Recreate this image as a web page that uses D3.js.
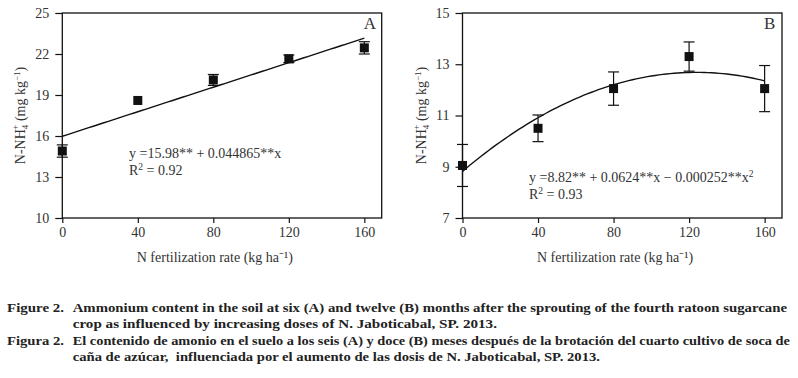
<!DOCTYPE html>
<html>
<head>
<meta charset="utf-8">
<script src="https://cdn.jsdelivr.net/npm/d3@7"></script>
<style>
  body { margin: 0; background: #fff; }
  svg text { font-family: "Liberation Serif", "Times New Roman", serif; }
</style>
</head>
<body>
<div id="chart"></div>
<script>
// doses de N (kg/ha) y promedios de N-NH4+
const doses = [0, 40, 80, 120, 160];
const nh4Six = [14.9, 18.6, 20.1, 21.65, 22.45];
const errSix = [0.45, 0, 0.4, 0.28, 0.45];
const nh4Twelve = [9.05, 10.5, 12.05, 13.3, 12.05];
const errTwelve = [0.82, 0.52, 0.65, 0.57, 0.9];
const xTicks = [0, 40, 80, 120, 160];
const yTicksA = [10, 13, 16, 19, 22, 25];
const yTicksB = [7, 9, 11, 13, 15];
// coeficientes de la regresion mostrados en la figura
const coefA = [15.98, 0.044865];
const coefB = [8.82, 0.0624, -0.000252];
const eqA = 'y =15.98** + 0.044865**x';
const eqB = 'y =8.82** + 0.0624**x \u2212 0.000252**x';
const r2A = '0.92';
const r2B = '0.93';

const svgWidth = 798, svgHeight = 378;
const svg = d3.select('#chart').append('svg')
  .attr('width', svgWidth)
  .attr('height', svgHeight);

const plotTop = 13, plotBottom = 218;

function panel(opt) {
  const g = svg.append('g');
  const x = d3.scaleLinear().domain([0, 169.2]).range([opt.left, opt.right]);
  const y = d3.scaleLinear().domain(opt.yDomain).range([plotBottom, plotTop]);

  // marco
  g.append('rect')
    .attr('x', opt.left).attr('y', plotTop)
    .attr('width', opt.right - opt.left).attr('height', plotBottom - plotTop)
    .attr('fill', 'none').attr('stroke', '#111').attr('stroke-width', 1.3);

  const yAxis = g.append('g')
    .attr('transform', `translate(${opt.left},0)`)
    .call(d3.axisLeft(y).tickValues(opt.yTicks).tickSize(7).tickPadding(6).tickSizeOuter(0));
  const xAxis = g.append('g')
    .attr('transform', `translate(0,${plotBottom})`)
    .call(d3.axisBottom(x).tickValues(xTicks).tickSize(5).tickPadding(4).tickSizeOuter(0));
  [yAxis, xAxis].forEach(a => {
    a.select('.domain').remove();
    a.selectAll('line').attr('stroke', '#111').attr('stroke-width', 1.2);
    a.selectAll('text').attr('fill', '#333')
      .style('font-size', '14px')
      .style('font-family', '"Liberation Serif", serif');
  });

  // curva ajustada
  const line = d3.line().x(d => x(d)).y(d => y(opt.fit(d)));
  g.append('path')
    .datum(d3.range(0, 160.01, 2))
    .attr('d', line)
    .attr('fill', 'none').attr('stroke', '#111').attr('stroke-width', 1.4);

  // barras de error
  const pts = doses.map((d, i) => ({ dose: d, v: opt.values[i], e: opt.errors[i] }))
  const eb = g.selectAll('.eb').data(pts.filter(p => p.e > 0)).enter().append('g')
    .attr('stroke', '#111').attr('stroke-width', 1.2);
  eb.append('line')
    .attr('x1', d => x(d.dose)).attr('x2', d => x(d.dose))
    .attr('y1', d => y(d.v + d.e)).attr('y2', d => y(d.v - d.e));
  eb.append('line')
    .attr('x1', d => x(d.dose) - 5.5).attr('x2', d => x(d.dose) + 5.5)
    .attr('y1', d => y(d.v + d.e)).attr('y2', d => y(d.v + d.e));
  eb.append('line')
    .attr('x1', d => x(d.dose) - 5.5).attr('x2', d => x(d.dose) + 5.5)
    .attr('y1', d => y(d.v - d.e)).attr('y2', d => y(d.v - d.e));

  g.selectAll('.pt').data(pts).enter().append('rect')
    .attr('x', d => x(d.dose) - 4.5).attr('y', d => y(d.v) - 4.5)
    .attr('width', 9).attr('height', 9)
    .attr('fill', '#111');

  // letra del panel
  g.append('text')
    .attr('x', opt.right - 18).attr('y', 29)
    .attr('text-anchor', 'start')
    .style('font-size', '17px').attr('fill', '#333')
    .text(opt.letter);

  // ecuacion
  const eq = g.append('text')
    .attr('x', opt.eqX).attr('y', opt.eqY)
    .style('font-size', '14px').attr('fill', '#333');
  eq.append('tspan').text(opt.eq);
  if (opt.squared) eq.append('tspan').attr('dy', -5).style('font-size', '9.5px').text('2');
  const r2 = g.append('text')
    .attr('x', opt.eqX).attr('y', opt.eqY + 17)
    .style('font-size', '14px').attr('fill', '#333');
  r2.append('tspan').text('R');
  r2.append('tspan').attr('dy', -5).style('font-size', '9.5px').text('2');
  r2.append('tspan').attr('dy', 5).text(' = ' + opt.r2);

  // etiqueta eje X
  g.append('text')
    .attr('x', x(80) + 1.5).attr('y', 262)
    .attr('text-anchor', 'middle')
    .style('font-size', '14px').attr('fill', '#333')
    .text('N fertilization rate (kg ha\u207B\u00B9)');

  // etiqueta eje Y
  const yl = g.append('text')
    .attr('transform', `translate(${opt.left - 37},${(plotTop + plotBottom) / 2}) rotate(-90)`)
    .attr('text-anchor', 'middle')
    .style('font-size', '14px').attr('fill', '#333');
  yl.append('tspan').text('N-NH');
  yl.append('tspan').attr('dy', 3).style('font-size', '9px').text('4');
  yl.append('tspan').attr('dx', -5).attr('dy', -10).style('font-size', '9px').text('+');
  yl.append('tspan').attr('dy', 7).text(' (mg kg');
  yl.append('tspan').attr('dy', -5).style('font-size', '9px').text('\u22121');
  yl.append('tspan').attr('dy', 5).text(')');
}

panel({
  left: 62.3, right: 381.7, yDomain: [10, 25], yTicks: yTicksA,
  values: nh4Six, errors: errSix,
  fit: v => coefA[0] + coefA[1] * v,
  letter: 'A', eq: eqA, squared: false, r2: r2A, eqX: 129, eqY: 158
});
panel({
  left: 462.5, right: 782, yDomain: [7, 15], yTicks: yTicksB,
  values: nh4Twelve, errors: errTwelve,
  fit: v => coefB[0] + coefB[1] * v + coefB[2] * v * v,
  letter: 'B', eq: eqB, squared: true, r2: r2B, eqX: 529, eqY: 182
});

// leyenda de la figura
const captions = [
  { label: 'Figure 2.', text: 'Ammonium content in the soil at six (A) and twelve (B) months after the sprouting of the fourth ratoon sugarcane', end: 787, y: 312 },
  { label: '', text: 'crop as influenced by increasing doses of N. Jaboticabal, SP. 2013.', end: 497, y: 328 },
  { label: 'Figura 2.', text: 'El contenido de amonio en el suelo a los seis (A) y doce (B) meses después de la brotación del cuarto cultivo de soca de', end: 790, y: 345 },
  { label: '', text: 'caña de azúcar,  influenciada por el aumento de las dosis de N. Jaboticabal, SP. 2013.', end: 600, y: 361 }
];
const cap = svg.append('g').attr('fill', '#222')
  .style('font-weight', 'bold').style('font-size', '13px');
captions.forEach(c => {
  if (c.label) {
    cap.append('text').attr('x', 7).attr('y', c.y)
      .attr('textLength', 57).attr('lengthAdjust', 'spacingAndGlyphs')
      .text(c.label);
  }
  cap.append('text').attr('x', 72.7).attr('y', c.y)
    .attr('textLength', c.end - 72.7).attr('lengthAdjust', 'spacingAndGlyphs')
    .style('white-space', 'pre')
    .text(c.text);
});
</script>
</body>
</html>
